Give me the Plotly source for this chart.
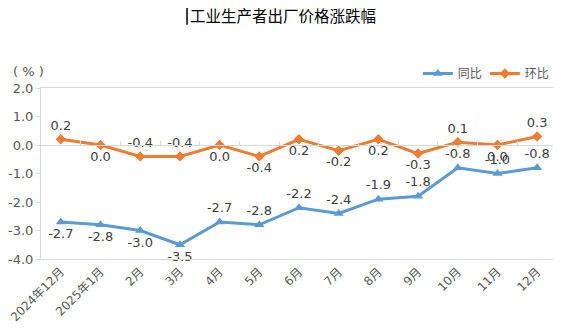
import plotly.graph_objects as go

months = ["2024年12月", "2025年1月", "2月", "3月", "4月", "5月", "6月",
          "7月", "8月", "9月", "10月", "11月", "12月"]
yoy = [-2.7, -2.8, -3.0, -3.5, -2.7, -2.8, -2.2, -2.4, -1.9, -1.8, -0.8, -1.0, -0.8]
mom = [0.2, 0.0, -0.4, -0.4, 0.0, -0.4, 0.2, -0.2, 0.2, -0.3, 0.1, 0.0, 0.3]
yoy_pos = ["bottom center"] * 4 + ["top center"] * 9
mom_pos = ["top center", "bottom center", "top center", "top center", "bottom center",
           "bottom center", "bottom center", "bottom center", "bottom center",
           "bottom center", "top center", "bottom center", "top center"]
yticks = [2, 1, 0, -1, -2, -3, -4]

FONT = "DejaVu Sans, Noto Sans CJK SC, sans-serif"
BLUE = "#5B9BD5"
ORANGE = "#ED7D31"
GRID = "#D9D9D9"
LBL = "#404040"

# the page body has an 8px margin, so the figure is laid out 8px smaller
W, H = 553, 322

fig = go.Figure()
fig.add_trace(go.Scatter(
    x=months, y=yoy, name="同比", mode="lines+markers+text",
    line=dict(color=BLUE, width=3),
    marker=dict(symbol="triangle-up", size=9, color=BLUE),
    text=[f"{v:.1f}" for v in yoy], textposition=yoy_pos,
    textfont=dict(size=13, color=LBL, family=FONT), cliponaxis=False,
))
fig.add_trace(go.Scatter(
    x=months, y=mom, name="环比", mode="lines+markers+text",
    line=dict(color=ORANGE, width=3),
    marker=dict(symbol="diamond", size=8, color=ORANGE),
    text=[f"{v:.1f}" for v in mom], textposition=mom_pos,
    textfont=dict(size=13, color=LBL, family=FONT), cliponaxis=False,
))
# invisible trace to carry the zero-crossing category axis
fig.add_trace(go.Scatter(x=months, y=[None] * len(months), xaxis="x2",
                         showlegend=False, hoverinfo="skip"))

fig.update_layout(
    width=W, height=H,
    margin=dict(l=33, r=4, t=80, b=71, autoexpand=False),
    paper_bgcolor="white", plot_bgcolor="white",
    font=dict(family=FONT, color="#595959", size=12),
    title=dict(text="工业生产者出厂价格涨跌幅", x=(283 - 8) / W, xanchor="center",
               y=1 - 9 / H, yanchor="middle", automargin=False,
               font=dict(family="Noto Sans CJK SC", size=15.5, color="black")),
    showlegend=True,
    legend=dict(orientation="h", x=0.99, xanchor="right", y=1.085, yanchor="middle",
                font=dict(size=12, color="#595959", family="Noto Sans CJK SC"),
                bgcolor="rgba(0,0,0,0)", itemwidth=30, tracegroupgap=0,
                entrywidth=22, entrywidthmode="pixels"),
    xaxis=dict(type="category", categoryorder="array", categoryarray=months,
               range=[-0.5, len(months) - 0.5], automargin=False,
               showline=True, linecolor=GRID, linewidth=1, mirror=True,
               showgrid=False, ticks="", tickangle=-45,
               tickfont=dict(size=12, color="#595959", family=FONT)),
    xaxis2=dict(type="category", categoryorder="array", categoryarray=months,
                range=[-0.5, len(months) - 0.5], overlaying="x", anchor="free",
                position=4 / 6, showline=True, linecolor=GRID, linewidth=1,
                automargin=False, showgrid=False, showticklabels=False,
                ticks="inside", ticklen=4, tickcolor=GRID, tickson="boundaries"),
    yaxis=dict(range=[-4, 2], tickvals=yticks, ticktext=[f"{v:.1f}" for v in yticks],
               automargin=False,
               showline=True, linecolor=GRID, linewidth=1, mirror=True,
               showgrid=False, zeroline=False, ticks="outside", ticklen=4,
               tickcolor=GRID, tickfont=dict(size=13, color="#595959", family=FONT)),
    annotations=[dict(text="( % )", xref="paper", yref="paper", x=-0.025, y=1.094,
                      xanchor="center", yanchor="middle", showarrow=False,
                      font=dict(size=13, color="#595959", family=FONT))],
    shapes=[dict(type="line", xref="paper", yref="paper",
                 x0=0.283, x1=0.283, y0=1.37, y1=1.47,
                 line=dict(color="black", width=1.5))],
)

fig.write_html("out.html")
